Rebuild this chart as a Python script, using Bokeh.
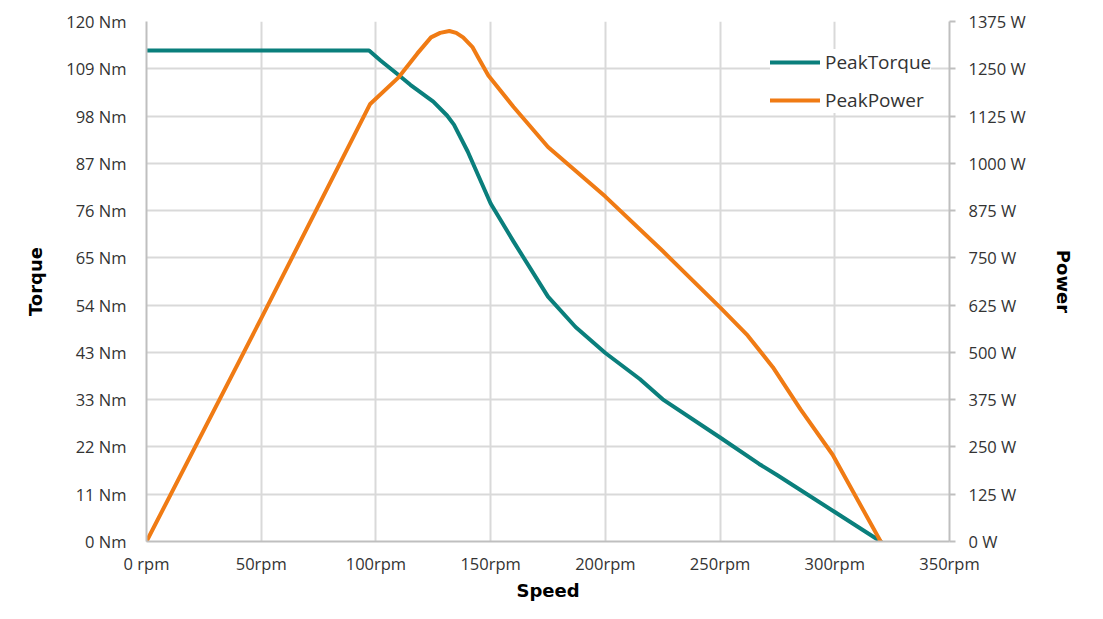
from bokeh.plotting import figure
from bokeh.models import Range1d, LinearAxis, FixedTicker, Legend, LegendItem
from bokeh.embed import file_html
from bokeh.resources import INLINE

# ---- data ----
torque_speed = [0, 97, 102, 110, 115, 125, 131, 134, 140, 150, 160, 175, 187, 200, 215, 225, 250, 267, 275, 300, 320]
torque_nm    = [113.3, 113.3, 111.0, 107.6, 105.4, 101.5, 98.3, 96.2, 90.0, 78.0, 69.2, 56.5, 49.5, 43.5, 37.5, 32.8, 24.0, 17.9, 15.3, 6.8, 0.0]

power_speed = [0, 50, 97.5, 110, 118, 124, 128, 132, 135, 138, 142, 145, 149, 160, 175, 200, 225, 250, 262, 273, 285, 299, 320]
power_w     = [0, 590, 1157, 1228, 1290, 1333, 1345, 1350, 1345, 1333, 1308, 1275, 1232, 1149, 1043, 912, 768, 619, 545, 461, 350, 230, 0]

x_ticks = [0, 50, 100, 150, 200, 250, 300, 350]
x_labels = ["0 rpm", "50rpm", "100rpm", "150rpm", "200rpm", "250rpm", "300rpm", "350rpm"]
torque_ticks = [i * 120 / 11 for i in range(12)]
torque_labels = ["0 Nm", "11 Nm", "22 Nm", "33 Nm", "43 Nm", "54 Nm", "65 Nm", "76 Nm", "87 Nm", "98 Nm", "109 Nm", "120 Nm"]
power_ticks = [0, 125, 250, 375, 500, 625, 750, 875, 1000, 1125, 1250, 1375]
power_labels = ["0 W", "125 W", "250 W", "375 W", "500 W", "625 W", "750 W", "875 W", "1000 W", "1125 W", "1250 W", "1375 W"]

TEAL = "#0a7f7c"
ORANGE = "#f07b14"
FONT = "Open Sans"
TITLE_FONT = "DejaVu Sans"
GRID = "#d9d9d9"
AXIS = "#bfbfbf"
TXT = "#333333"

p = figure(width=1087, height=603, output_backend="svg", toolbar_location=None,
           x_range=Range1d(0, 350), y_range=Range1d(0, 120),
           min_border_left=146, min_border_right=138, min_border_top=21, min_border_bottom=62)
p.outline_line_color = None
p.extra_y_ranges = {"power": Range1d(0, 1375)}

# axes
p.xaxis.ticker = FixedTicker(ticks=x_ticks)
p.xaxis.major_label_overrides = {t: l for t, l in zip(x_ticks, x_labels)}
p.yaxis.ticker = FixedTicker(ticks=torque_ticks)
p.yaxis.major_label_overrides = {t: l for t, l in zip(torque_ticks, torque_labels)}

right = LinearAxis(y_range_name="power", ticker=FixedTicker(ticks=power_ticks),
                   major_label_overrides={t: l for t, l in zip(power_ticks, power_labels)})
p.add_layout(right, "right")

for ax in [p.xaxis[0], p.yaxis[0], right]:
    ax.axis_line_color = AXIS
    ax.axis_line_width = 2
    ax.minor_tick_line_color = None
    ax.minor_tick_out = 0
    ax.minor_tick_in = 0
    ax.major_label_text_font = FONT
    ax.major_label_text_font_size = "16.5px"
    ax.major_label_text_color = TXT
    ax.axis_label_text_font = TITLE_FONT
    ax.axis_label_text_font_style = "bold"
    ax.axis_label_text_font_size = "18px"
    ax.axis_label_text_color = "#000000"

for ax in [p.xaxis[0], p.yaxis[0]]:
    ax.major_tick_line_color = None
    ax.major_tick_out = 0
    ax.major_tick_in = 0
right.major_tick_line_color = AXIS
right.major_tick_line_width = 2
right.major_tick_out = 6
right.major_tick_in = 0

p.xaxis.axis_label = "Speed"
p.yaxis[0].axis_label = "Torque"
right.axis_label = "Power"
right.axis_label_orientation = "vertical"
p.xaxis.major_label_standoff = 10
p.xaxis.axis_label_standoff = 2
p.yaxis[0].major_label_standoff = 20
p.yaxis[0].axis_label_standoff = 17
right.major_label_standoff = 13
right.axis_label_standoff = 24

p.xgrid.grid_line_color = GRID
p.xgrid.grid_line_width = 2
p.ygrid.grid_line_color = GRID
p.ygrid.grid_line_width = 2

r1 = p.line(torque_speed, torque_nm, line_color=TEAL, line_width=4, line_join="round", line_cap="round")
r2 = p.line(power_speed, power_w, y_range_name="power", line_color=ORANGE, line_width=4,
            line_join="round", line_cap="round")

legend = Legend(items=[LegendItem(label="PeakTorque", renderers=[r1]),
                       LegendItem(label="PeakPower", renderers=[r2])],
                location=(624, 428))
legend.label_text_font = FONT
legend.label_text_font_size = "19px"
legend.label_text_color = TXT
legend.glyph_width = 50
legend.glyph_height = 20
legend.label_height = 20
legend.label_standoff = 5
legend.spacing = 12
legend.padding = 10
legend.border_line_color = None
legend.background_fill_color = "white"
legend.background_fill_alpha = 1.0
p.add_layout(legend, "center")

open("out.html", "w").write(file_html(p, INLINE))
